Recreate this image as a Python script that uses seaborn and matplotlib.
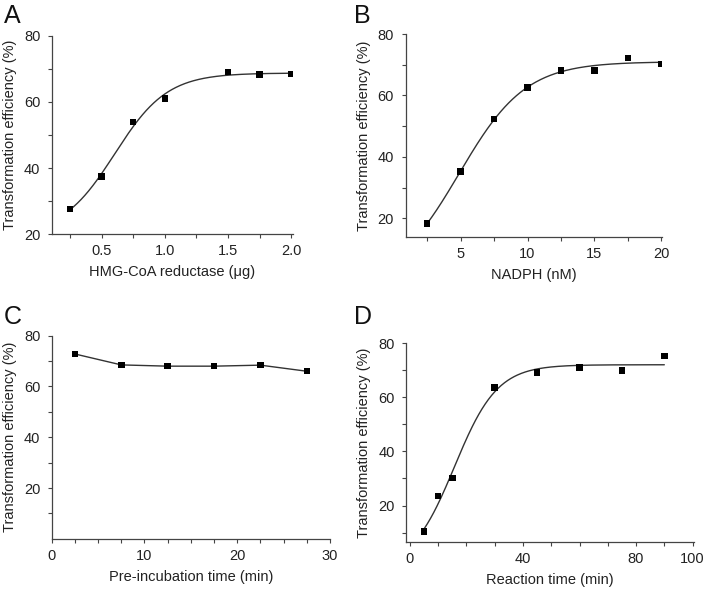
import numpy as np
import pandas as pd
import matplotlib
matplotlib.use("Agg")
import matplotlib.pyplot as plt
from matplotlib.ticker import FixedLocator
import seaborn as sns

# ---------------- data ----------------
a_enzyme = [0.25, 0.5, 0.75, 1.0, 1.5, 1.75, 2.0]
a_eff = [27.7, 37.5, 54.0, 61.0, 69.0, 68.3, 68.5]

b_nadph = [2.5, 5.0, 7.5, 10.0, 12.5, 15.0, 17.5, 20.0]
b_eff = [18.3, 35.3, 52.3, 62.6, 68.1, 68.1, 72.2, 70.3]

c_time = [2.5, 7.5, 12.5, 17.5, 22.5, 27.5]
c_eff = [72.8, 68.5, 68.0, 68.0, 68.4, 66.0]

d_time = [5, 10, 15, 30, 45, 60, 75, 90]
d_eff = [10.3, 23.5, 30.2, 63.6, 69.2, 71.0, 70.0, 75.3]

panel_letters = ["A", "B", "C", "D"]
x_labels = ["HMG-CoA reductase (\u03bcg)", "NADPH (nM)",
            "Pre-incubation time (min)", "Reaction time (min)"]
y_label = "Transformation efficiency (%)"


def fit_sigmoid(x, y, n=240):
    """Least-squares fit of a 4-parameter logistic curve to the data."""
    x = np.asarray(x, float)
    y = np.asarray(y, float)
    span = x.max() - x.min()
    x0s = np.linspace(x.min() - 0.2 * span, x.max(), n)
    dxs = np.geomspace(span / 200, span, n)
    X0, DX = np.meshgrid(x0s, dxs, indexing="ij")
    S = 1.0 / (1.0 + np.exp(-(x[None, None, :] - X0[..., None]) / DX[..., None]))
    U = 1.0 - S
    suu = (U * U).sum(-1); sus = (U * S).sum(-1); sss = (S * S).sum(-1)
    suy = (U * y).sum(-1); ssy = (S * y).sum(-1)
    det = suu * sss - sus * sus
    det = np.where(np.abs(det) < 1e-12, np.nan, det)
    bot = (sss * suy - sus * ssy) / det
    top = (suu * ssy - sus * suy) / det
    pred = bot[..., None] * U + top[..., None] * S
    sse = ((pred - y) ** 2).sum(-1)
    i, j = np.unravel_index(np.nanargmin(sse), sse.shape)
    p = (bot[i, j], top[i, j], X0[i, j], DX[i, j])
    xf = np.linspace(x.min(), x.max(), 300)
    yf = p[0] + (p[1] - p[0]) / (1.0 + np.exp(-(xf - p[2]) / p[3]))
    return pd.DataFrame({"x": xf, "y": yf})


# ---------------- style ----------------
sns.set_theme(style="ticks")
plt.rcParams["font.family"] = ["Liberation Sans", "DejaVu Sans"]
text_col = "#222222"
spine_col = "#444444"
plt.rcParams.update({
    "axes.edgecolor": spine_col,
    "axes.linewidth": 0.9,
    "xtick.color": spine_col,
    "ytick.color": spine_col,
    "xtick.labelcolor": text_col,
    "ytick.labelcolor": text_col,
    "axes.labelcolor": text_col,
    "xtick.labelsize": 10.5,
    "ytick.labelsize": 10.5,
    "axes.labelsize": 10.5,
})

fig = plt.figure(figsize=(7.05, 5.91), dpi=100)
W, H = 705.0, 591.0


def add_axes(l, r, t, b):
    return fig.add_axes([l / W, 1 - b / H, (r - l) / W, (b - t) / H])


axA = add_axes(51.7, 292.5, 35.7, 234.3)
axB = add_axes(405.5, 662.0, 34.0, 236.7)
axC = add_axes(51.7, 330.0, 335.7, 538.8)
axD = add_axes(406.0, 694.0, 343.3, 542.0)
axes = [axA, axB, axC, axD]

mk = dict(marker="s", s=22, color="black", edgecolor="none", zorder=3)
ln = dict(color="#333333", linewidth=1.0, zorder=2)

# A
fa = fit_sigmoid(a_enzyme, a_eff)
sns.lineplot(data=fa, x="x", y="y", ax=axA, **ln)
sns.scatterplot(x=a_enzyme, y=a_eff, ax=axA, **mk)
axA.set_xlim(0.105, 2.01)
axA.set_ylim(20, 80)
axA.xaxis.set_major_locator(FixedLocator([0.5, 1.0, 1.5, 2.0]))
axA.xaxis.set_minor_locator(FixedLocator([0.25, 0.75, 1.25, 1.75]))
axA.set_xticklabels(["0.5", "1.0", "1.5", "2.0"])

# B
fb = fit_sigmoid(b_nadph, b_eff)
sns.lineplot(data=fb, x="x", y="y", ax=axB, **ln)
sns.scatterplot(x=b_nadph, y=b_eff, ax=axB, **mk)
axB.set_xlim(0.88, 20.05)
axB.set_ylim(14, 80)
axB.xaxis.set_major_locator(FixedLocator([5, 10, 15, 20]))
axB.xaxis.set_minor_locator(FixedLocator([2.5, 7.5, 12.5, 17.5]))

# C
sns.lineplot(x=c_time, y=c_eff, ax=axC, **ln)
sns.scatterplot(x=c_time, y=c_eff, ax=axC, **mk)
axC.set_xlim(0, 30)
axC.set_ylim(0, 80)
axC.xaxis.set_major_locator(FixedLocator([0, 10, 20, 30]))
axC.xaxis.set_minor_locator(FixedLocator([2.5, 5, 7.5, 12.5, 15, 17.5, 22.5, 25, 27.5]))

# D
fd = fit_sigmoid(d_time, d_eff)
sns.lineplot(data=fd, x="x", y="y", ax=axD, **ln)
sns.scatterplot(x=d_time, y=d_eff, ax=axD, **mk)
axD.set_xlim(-1.4, 100.5)
axD.set_ylim(6.5, 80)
axD.xaxis.set_major_locator(FixedLocator([0, 40, 80, 100]))
axD.xaxis.set_minor_locator(FixedLocator([10, 20, 30, 50, 60, 70, 90]))

for ax in (axA, axB):
    ax.yaxis.set_major_locator(FixedLocator([20, 40, 60, 80]))
    ax.yaxis.set_minor_locator(FixedLocator([30, 50, 70]))
for ax in (axC, axD):
    ax.yaxis.set_major_locator(FixedLocator([20, 40, 60, 80]))
    ax.yaxis.set_minor_locator(FixedLocator([10, 30, 50, 70]))

letter_pos = [(4, 4), (354, 4), (4, 305), (354, 305)]
for ax, lab, letter, (lx, ly) in zip(axes, x_labels, panel_letters, letter_pos):
    sns.despine(ax=ax)
    ax.tick_params(which="both", direction="out", length=3.2, width=0.8)
    ax.tick_params(axis="x", which="both", pad=4)
    ax.tick_params(axis="y", which="both", pad=5)
    ax.set_xlabel(lab, labelpad=5)
    ax.set_ylabel(y_label, labelpad=5)
    fig.text(lx / W, 1 - ly / H, letter, fontsize=18, color="#111111",
             ha="left", va="top")

fig.savefig("out.png", dpi=100)
